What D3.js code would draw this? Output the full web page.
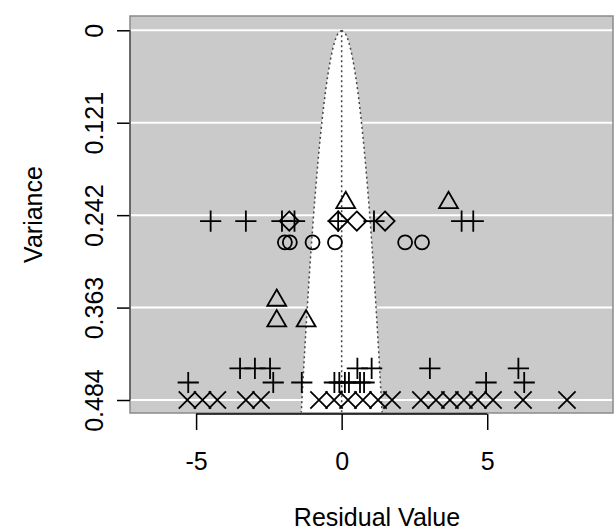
<!DOCTYPE html>
<html>
<head>
<meta charset="utf-8">
<script src="https://cdn.jsdelivr.net/npm/d3@7"></script>
<style>
  body { margin: 0; background: #fff; }
  svg { display: block; font-family: "Liberation Sans", Arial, sans-serif; }
</style>
</head>
<body>
<svg id="chart" width="614" height="531"></svg>
<script>
// residual value / variance pairs, one array per plotting symbol
const timesPts = [
  [-5.30, 0.484], [-4.78, 0.484], [-4.27, 0.484], [-3.29, 0.484], [-2.77, 0.484],
  [-0.78, 0.484], [-0.26, 0.484], [0.22, 0.484], [0.73, 0.484], [1.25, 0.484],
  [1.73, 0.484], [2.72, 0.484], [3.24, 0.484], [3.72, 0.484], [4.20, 0.484],
  [4.68, 0.484], [5.20, 0.484], [6.23, 0.484], [7.74, 0.484]
];
const plusPts = [
  [-4.50, 0.2497], [-3.29, 0.2497], [-2.05, 0.2497], [-1.62, 0.2497],
  [-0.12, 0.2497], [1.11, 0.2497], [4.12, 0.2497], [4.52, 0.2497],
  [-3.49, 0.4425], [-2.98, 0.4425], [-2.46, 0.4425], [0.54, 0.4425],
  [1.03, 0.4425], [3.03, 0.4425], [6.07, 0.4425],
  [-5.27, 0.4611], [-2.35, 0.4611], [-1.37, 0.4611], [-0.25, 0.4611],
  [-0.08, 0.4611], [0.11, 0.4611], [0.25, 0.4611], [0.63, 0.4611],
  [0.77, 0.4611], [4.96, 0.4611], [6.27, 0.4611]
];
const trianglePts = [
  [0.14, 0.2257], [3.67, 0.2257], [-2.23, 0.3535], [-2.23, 0.3806], [-1.22, 0.3806]
];
const circlePts = [
  [-1.95, 0.2776], [-1.78, 0.2776], [-1.00, 0.2776], [-0.23, 0.2776],
  [2.18, 0.2776], [2.76, 0.2776]
];
const diamondPts = [
  [-1.80, 0.2497], [-0.12, 0.2497], [0.52, 0.2497], [1.49, 0.2497]
];
const xTicks = [-5, 0, 5];
const yTicks = [0, 0.121, 0.242, 0.363, 0.484];
const zCrit = 1.96;

const svg = d3.select('#chart');
const panel = { left: 130, right: 613, top: 16, bottom: 413 };
const fontSize = 25;

const x = d3.scaleLinear().domain([-7.27, 9.32]).range([panel.left, panel.right]);
const y = d3.scaleLinear().domain([-0.0187, 0.501]).range([panel.top, panel.bottom]);

// grey background and white grid lines
svg.append('rect')
  .attr('x', panel.left).attr('y', panel.top)
  .attr('width', panel.right - panel.left).attr('height', panel.bottom - panel.top)
  .attr('fill', '#cacaca');

svg.append('g').selectAll('line')
  .data(yTicks)
  .join('line')
  .attr('x1', panel.left).attr('x2', panel.right)
  .attr('y1', d => y(d)).attr('y2', d => y(d))
  .attr('stroke', '#fff').attr('stroke-width', 2);

// pseudo confidence region
const vMax = y.domain()[1];
const vSteps = d3.range(0, 101).map(i => vMax * i / 100);
const left = vSteps.map(v => [x(-zCrit * Math.sqrt(v)), y(v)]);
const right = vSteps.map(v => [x(zCrit * Math.sqrt(v)), y(v)]);

svg.append('path')
  .attr('d', d3.line()(left.concat(right.slice().reverse())))
  .attr('fill', '#fff');

const dotted = g => g.attr('fill', 'none').attr('stroke', '#444')
  .attr('stroke-width', 1.5).attr('stroke-dasharray', '2,3');

svg.append('path').attr('d', d3.line()(left)).call(dotted);
svg.append('path').attr('d', d3.line()(right)).call(dotted);
svg.append('line')
  .attr('x1', x(0)).attr('x2', x(0))
  .attr('y1', y(0)).attr('y2', panel.bottom)
  .call(dotted);

// panel frame
svg.append('rect')
  .attr('x', panel.left).attr('y', panel.top)
  .attr('width', panel.right - panel.left).attr('height', panel.bottom - panel.top)
  .attr('fill', 'none').attr('stroke', '#8a8a8a').attr('stroke-width', 1.5);

// symbols, size is used as the basic radius
const symPlus = { draw(c, r) { c.moveTo(-r, 0); c.lineTo(r, 0); c.moveTo(0, -r); c.lineTo(0, r); } };
const symTimes = { draw(c, r) { c.moveTo(-r, -r); c.lineTo(r, r); c.moveTo(-r, r); c.lineTo(r, -r); } };
const symCircle = { draw(c, r) { c.moveTo(r, 0); c.arc(0, 0, r, 0, 2 * Math.PI); } };
const symDiamond = { draw(c, r) { c.moveTo(0, -r); c.lineTo(r, 0); c.lineTo(0, r); c.lineTo(-r, 0); c.closePath(); } };
const symTriangle = {
  draw(c, r) {
    c.moveTo(0, -1.555 * r);
    c.lineTo(1.3468 * r, 0.7776 * r);
    c.lineTo(-1.3468 * r, 0.7776 * r);
    c.closePath();
  }
};

function drawPoints(data, type, size) {
  svg.append('g').selectAll('path')
    .data(data)
    .join('path')
    .attr('transform', d => `translate(${x(d[0])},${y(d[1])})`)
    .attr('d', d3.symbol().type(type).size(size))
    .attr('fill', 'none')
    .attr('stroke', '#000')
    .attr('stroke-width', 1.8);
}

drawPoints(timesPts, symTimes, 8.6);
drawPoints(plusPts, symPlus, 10.6);
drawPoints(circlePts, symCircle, 7);
drawPoints(diamondPts, symDiamond, 9.6);
drawPoints(trianglePts, symTriangle, 7);

// axes (plain hyphen for negative labels, as in the original)
const xAxis = svg.append('g')
  .attr('transform', `translate(0,${panel.bottom + 1})`)
  .call(d3.axisBottom(x).tickValues(xTicks).tickFormat(d => String(d))
    .tickSize(16).tickSizeOuter(0).tickPadding(22));
xAxis.select('.domain').remove();
xAxis.append('line')
  .attr('x1', x(xTicks[0])).attr('x2', x(xTicks[xTicks.length - 1]))
  .attr('stroke', '#000').attr('stroke-width', 1.5);
xAxis.selectAll('.tick line').attr('stroke-width', 1.5);
xAxis.selectAll('text').attr('font-size', fontSize).attr('fill', '#000')
  .attr('font-family', '"Liberation Sans", Arial, sans-serif');

const yAxis = svg.append('g')
  .attr('transform', `translate(${panel.left},0)`)
  .call(d3.axisLeft(y).tickValues(yTicks).tickFormat(d => String(d)).tickSize(13).tickSizeOuter(0));
yAxis.select('.domain').remove();
yAxis.append('line')
  .attr('y1', y(yTicks[0])).attr('y2', y(yTicks[yTicks.length - 1]))
  .attr('stroke', '#555').attr('stroke-width', 1.5);
yAxis.selectAll('.tick line').attr('stroke-width', 1.5);
yAxis.selectAll('text')
  .attr('x', null).attr('dy', null)
  .attr('text-anchor', 'middle')
  .attr('transform', 'translate(-27,0) rotate(-90)')
  .attr('font-size', fontSize).attr('fill', '#000')
  .attr('font-family', '"Liberation Sans", Arial, sans-serif');

// axis titles
svg.append('text')
  .attr('x', 377).attr('y', 526)
  .attr('text-anchor', 'middle').attr('font-size', fontSize)
  .text('Residual Value');

svg.append('text')
  .attr('transform', `translate(42,${(panel.top + panel.bottom) / 2}) rotate(-90)`)
  .attr('text-anchor', 'middle').attr('font-size', fontSize)
  .text('Variance');
</script>
</body>
</html>
